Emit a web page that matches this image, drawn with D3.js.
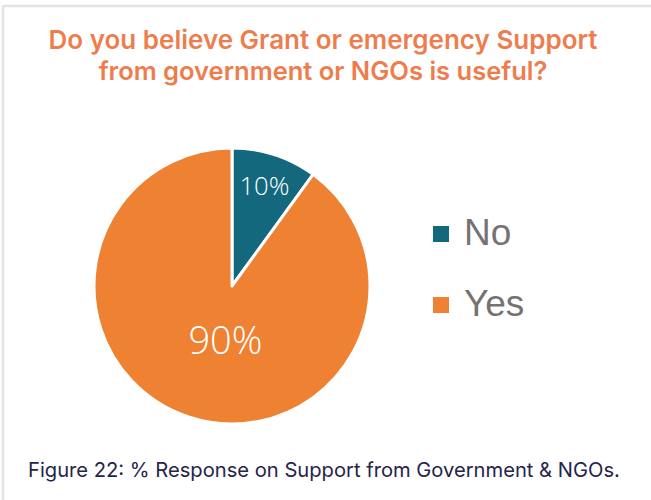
<!DOCTYPE html>
<html>
<head>
<meta charset="utf-8">
<script src="https://cdn.jsdelivr.net/npm/d3@7"></script>
<style>
  html, body { margin: 0; padding: 0; background: #fff; }
  svg { display: block; }
</style>
</head>
<body>
<svg id="chart" width="651" height="500"></svg>
<script>
// Survey answers and their shares (%)
const categories = ["No", "Yes"];
const values = [10, 90];
const titleLines = [
  "Do you believe Grant or emergency Support",
  "from government or NGOs is useful?"
];
const caption = "Figure 22: % Response on Support from Government & NGOs.";

const colors = d3.scaleOrdinal().domain(categories).range(["#13687d", "#ef8132"]);

const svg = d3.select("#chart");

// light frame around the figure panel
svg.append("rect")
  .attr("x", 3).attr("y", 6)
  .attr("width", 700).attr("height", 600)
  .attr("fill", "#fff")
  .attr("stroke", "#e4e4e4")
  .attr("stroke-width", 2.5);

// fit a text element to a target width by adjusting its font size
function fitWidth(sel, target) {
  const node = sel.node();
  const fs = parseFloat(sel.attr("font-size"));
  const w = node.getComputedTextLength();
  if (w > 0) sel.attr("font-size", (fs * target / w).toFixed(2));
}

// title
const titleWidths = [549, 449];
titleLines.forEach((line, i) => {
  const t = svg.append("text")
    .attr("x", 323).attr("y", 49 + i * 31)
    .attr("text-anchor", "middle")
    .attr("font-family", "Inter, Lato, sans-serif")
    .attr("font-weight", 600)
    .attr("font-size", 26)
    .attr("fill", "#ee7d4e")
    .text(line);
  fitWidth(t, titleWidths[i]);
});

// pie
const cx = 232, cy = 286, r = 138;
const pie = d3.pie().sort(null).value(d => d.value);
const arc = d3.arc().innerRadius(0).outerRadius(r);
const data = categories.map((c, i) => ({ name: c, value: values[i] }));
const arcs = pie(data);

const g = svg.append("g").attr("transform", `translate(${cx},${cy})`);
g.selectAll("path.slice")
  .data(arcs)
  .join("path")
  .attr("class", "slice")
  .attr("d", arc)
  .attr("fill", d => colors(d.data.name))
  .attr("stroke", "#fff")
  .attr("stroke-width", 3)
  .attr("stroke-linejoin", "round");

// data labels, placed along each slice's mid-angle
const labelStyle = [
  { radius: 105, size: 24, width: 50, dx: 0 },
  { radius: 57, size: 33, width: 74, dx: 11 }
];
g.selectAll("text.lbl")
  .data(arcs)
  .join("text")
  .attr("class", "lbl")
  .attr("text-anchor", "middle")
  .attr("font-family", "'Open Sans', Lato, sans-serif")
  .attr("font-weight", 300)
  .attr("fill", "#fff")
  .text(d => d.data.value + "%")
  .each(function (d, i) {
    const s = labelStyle[i];
    const a = (d.startAngle + d.endAngle) / 2;
    const x = Math.sin(a) * s.radius + s.dx;
    const y = -Math.cos(a) * s.radius;
    const t = d3.select(this)
      .attr("x", x).attr("y", y)
      .attr("dy", "0.36em")
      .attr("font-size", s.size);
    fitWidth(t, s.width);
  });

// legend
const legend = svg.append("g").attr("transform", "translate(433,226)");
const items = legend.selectAll("g")
  .data(categories)
  .join("g")
  .attr("transform", (d, i) => `translate(0,${i * 71})`);
items.append("rect")
  .attr("width", 16).attr("height", 16)
  .attr("fill", d => colors(d));
items.append("text")
  .attr("x", 31).attr("y", 19)
  .attr("font-family", "'Liberation Sans', Arial, sans-serif")
  .attr("font-size", 37)
  .attr("fill", "#767272")
  .text(d => d);

// caption
const cap = svg.append("text")
  .attr("x", 28).attr("y", 477)
  .attr("font-family", "Inter, Lato, sans-serif")
  .attr("font-size", 19.5)
  .attr("fill", "#25244a")
  .text(caption);
fitWidth(cap, 592);
</script>
</body>
</html>
